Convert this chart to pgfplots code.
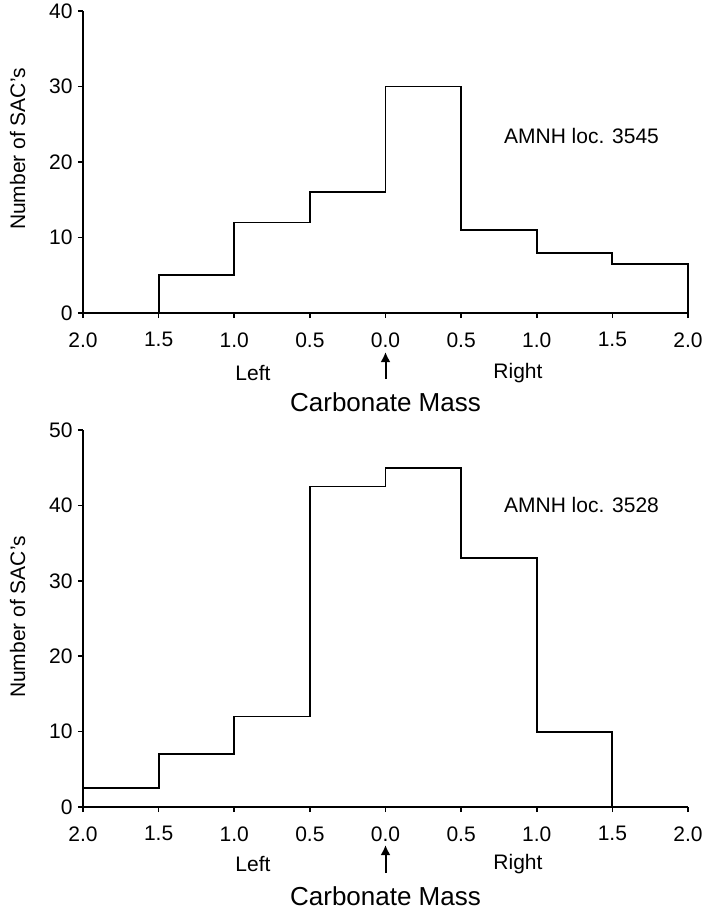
\documentclass[border=0pt]{standalone}
\usepackage{fontspec}
\setmainfont{Liberation Sans}
\usepackage{pgfplots}
\pgfplotsset{compat=1.18}
\usetikzlibrary{arrows.meta}

\newcommand{\smallfont}{\fontsize{21}{21}\selectfont}
\newcommand{\bigfont}{\fontsize{26}{26}\selectfont}

\pgfplotsset{
  sachist/.style={
    scale only axis, width=605pt,
    xmin=-2, xmax=2, ymin=0,
    axis lines=left, axis line style={-, line width=1.8pt},
    clip=false,
    xtick={-2,-1.5,-1,-0.5,0,0.5,1,1.5,2},
    xticklabels={2.0,1.5,1.0,0.5,0.0,0.5,1.0,1.5,2.0},
    tick align=outside, major tick length=5pt,
    tick style={line width=1.6pt, black},
    tick label style={font=\smallfont},
    xticklabel style={yshift=-11pt},
    yticklabel style={xshift=-2pt},
    /pgf/number format/assume math mode=true,
  },
  hist/.style={const plot mark left, black, line width=1.8pt, mark=none},
}

\begin{document}
\begin{tikzpicture}
\useasboundingbox (-83pt,-597pt) rectangle (624pt,313pt);

% top panel
\begin{axis}[sachist, height=302pt, ymax=40, ytick={0,10,20,30,40}]
\addplot[hist] coordinates {(-2,0) (-1.5,5) (-1,12) (-0.5,16) (0,30) (0.5,11) (1,8) (1.5,6.5) (2,0)};
\node[font=\smallfont] at (axis cs:1.296,23.4) {AMNH loc. 3545};
\node[rotate=90, font=\smallfont] at (axis description cs:-0.108,0.543) {Number of SAC's};
\node[font=\smallfont] at ([yshift=-60pt]axis cs:-0.876,0) {Left};
\node[font=\smallfont] at ([yshift=-60pt]axis cs:0.876,0) {Right};
\draw[line width=2pt, -{Latex[length=10pt,width=10pt]}] ([yshift=-66pt]axis cs:0,0) -- ([yshift=-39pt]axis cs:0,0);
\node[font=\bigfont] at ([yshift=-89pt]axis cs:0,0) {Carbonate Mass};
\end{axis}

% bottom panel
\begin{axis}[sachist, at={(0pt,-494pt)}, height=377pt, ymax=50, ytick={0,10,20,30,40,50}]
\addplot[hist] coordinates {(-2,0) (-2,2.5) (-1.5,7) (-1,12) (-0.5,42.5) (0,45) (0.5,33) (1,10) (1.5,0) (2,0)};
\node[font=\smallfont] at (axis cs:1.296,40.1) {AMNH loc. 3528};
\node[rotate=90, font=\smallfont] at (axis description cs:-0.108,0.504) {Number of SAC's};
\node[font=\smallfont] at ([yshift=-57pt]axis cs:-0.876,0) {Left};
\node[font=\smallfont] at ([yshift=-57pt]axis cs:0.876,0) {Right};
\draw[line width=2pt, -{Latex[length=10pt,width=10pt]}] ([yshift=-66pt]axis cs:0,0) -- ([yshift=-38pt]axis cs:0,0);
\node[font=\bigfont] at ([yshift=-89pt]axis cs:0,0) {Carbonate Mass};
\end{axis}
\end{tikzpicture}
\end{document}
